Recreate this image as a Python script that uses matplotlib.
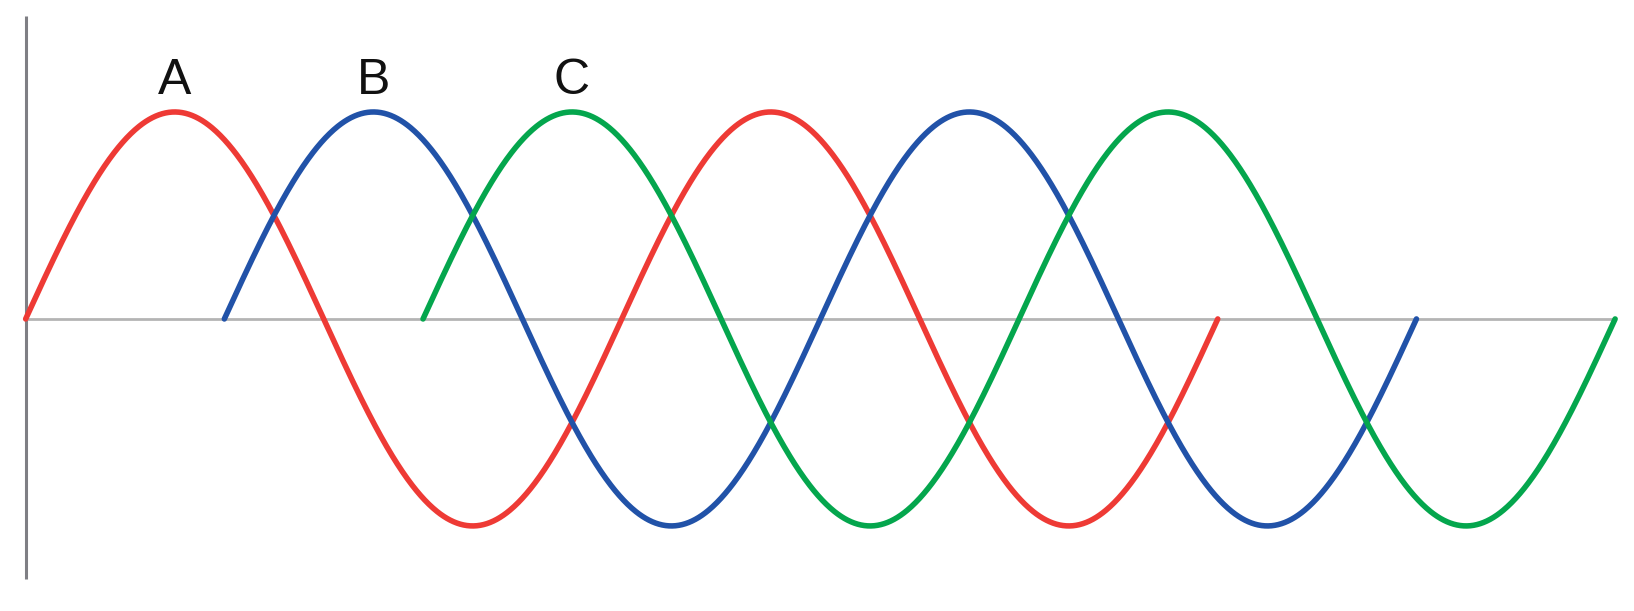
import numpy as np
import matplotlib
matplotlib.use('Agg')
import matplotlib.pyplot as plt

# trois phases decalees de 120 degres, deux periodes chacune
phases = ["A", "B", "C"]
decalages = [0, 120, 240]          # degres
couleurs = ["#EE3A35", "#2152A8", "#04A64D"]
amplitude = 1.0
nb_periodes = 2

# bornes des axes (degres / amplitude)
x_min, x_max = -15.5, 971.4
y_min, y_max = -1.411, 1.541
axe_v = (-1.256, 1.464)

fig = plt.figure(figsize=(16.34, 6.11), dpi=100)
ax = fig.add_axes([0, 0, 1, 1])
ax.set_xlim(x_min, x_max)
ax.set_ylim(y_min, y_max)
ax.axis('off')

fin = max(decalages) + 360 * nb_periodes

# axes a la main
ax.plot([0, 0], axe_v, color="#7f7f84", lw=2.2, solid_capstyle='butt', zorder=1)
ax.plot([0, fin], [0, 0], color="#b4b4b4", lw=2.0, solid_capstyle='butt', zorder=1)

theta = np.linspace(0, 360 * nb_periodes, 1441)
for nom, d, c in zip(phases, decalages, couleurs):
    ax.plot(d + theta, amplitude * np.sin(np.radians(theta)), color=c, lw=4.0,
            solid_capstyle='round', zorder=2)
    # etiquette au dessus du premier sommet
    ax.text(d + 90, amplitude + 0.085, nom, ha='center', va='baseline',
            fontsize=36, family='Liberation Sans', color='#111111')

fig.savefig("out.png", dpi=100)
